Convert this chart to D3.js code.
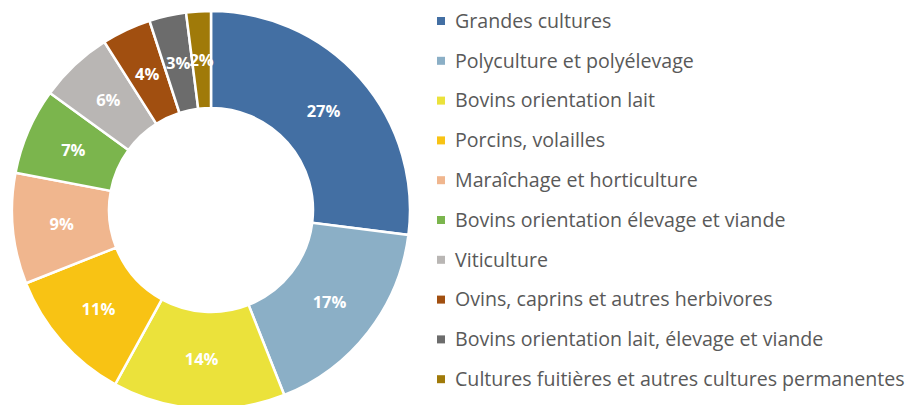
<!DOCTYPE html>
<html>
<head>
<meta charset="utf-8">
<script src="https://cdn.jsdelivr.net/npm/d3@7"></script>
<style>
  body { margin: 0; background: #fff; }
  svg { display: block; }
</style>
</head>
<body>
<svg id="grafico"></svg>
<script>
// orientations technico-economiques
let categories = [
    'Grandes cultures',
    'Polyculture et polyélevage',
    'Bovins orientation lait',
    'Porcins, volailles',
    'Maraîchage et horticulture',
    'Bovins orientation élevage et viande',
    'Viticulture',
    'Ovins, caprins et autres herbivores',
    'Bovins orientation lait, élevage et viande',
    'Cultures fuitières et autres cultures permanentes'
];
let valeurs = [27, 17, 14, 11, 9, 7, 6, 4, 3, 2];
let couleurs = ['#436fa3', '#8bafc6', '#ebe23b', '#f8c314', '#f0b68e', '#7bb54d', '#b9b6b4', '#a14f10', '#6c6c6c', '#a07a09'];

let largura = 909, altura = 405;
let svg = d3.select('#grafico').attr('width', largura).attr('height', altura);

let centre = { x: 211, y: 210 };
let rayonExt = 199, rayonInt = 102;

let fnCores = d3.scaleOrdinal().domain(categories).range(couleurs);

let dados = categories.map((c, i) => ({ chave: c, valeur: valeurs[i] }));

let pie = d3.pie().value(d => d.valeur).sort(null);
let arc = d3.arc().innerRadius(rayonInt).outerRadius(rayonExt);
let arcRotulo = d3.arc().innerRadius(150).outerRadius(150);

let plotagem = svg.append('g')
    .attr('transform', 'translate(' + centre.x + ',' + centre.y + ')');

plotagem.selectAll('.tranche').data(pie(dados)).enter()
    .append('path').classed('tranche', true)
    .attr('d', arc)
    .attr('fill', d => fnCores(d.data.chave))
    .attr('stroke', '#fff')
    .attr('stroke-width', 2.5);

plotagem.selectAll('.rotulo').data(pie(dados)).enter()
    .append('text').classed('rotulo', true)
    .attr('transform', d => 'translate(' + arcRotulo.centroid(d) + ')')
    .attr('text-anchor', 'middle')
    .attr('dy', '0.35em')
    .style('font-family', '"Open Sans", sans-serif')
    .style('font-weight', 'bold')
    .style('font-size', '16.5px')
    .style('fill', '#fff')
    .text(d => d.data.valeur + '%');

// legende
let legende = svg.append('g').attr('transform', 'translate(437, 21)');
let items = legende.selectAll('.item').data(categories).enter()
    .append('g').classed('item', true)
    .attr('transform', (d, i) => 'translate(0,' + (i * 39.8) + ')');

items.append('rect')
    .attr('x', 0).attr('y', -4)
    .attr('width', 8).attr('height', 8)
    .attr('fill', d => fnCores(d));

let textes = items.append('text')
    .attr('x', 18)
    .attr('dy', '0.35em')
    .style('font-family', '"Open Sans", sans-serif')
    .style('font-size', '17px')
    .style('fill', '#595959')
    .text(d => d);

// ajuste la taille pour que la plus longue ligne finisse vers x=905
let maxLarg = d3.max(textes.nodes(), n => n.getComputedTextLength());
textes.style('font-size', (17 * 450 / maxLarg) + 'px');
</script>
</body>
</html>
